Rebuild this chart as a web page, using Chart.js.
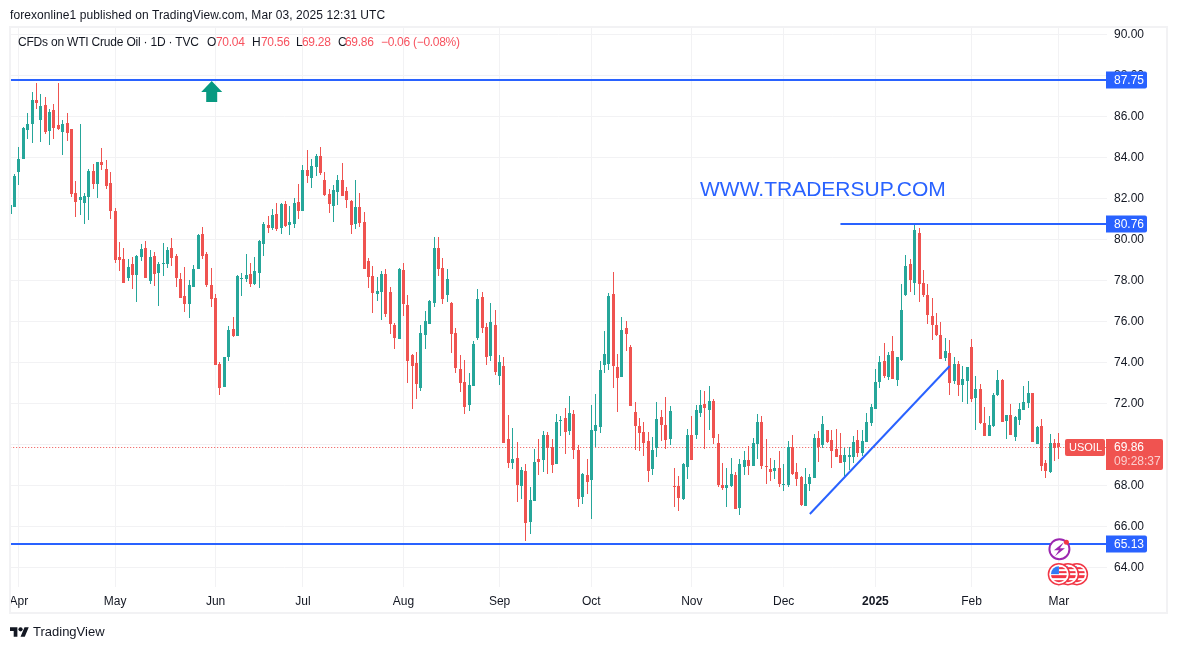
<!DOCTYPE html>
<html>
<head>
<meta charset="utf-8">
<title>USOIL</title>
<script src="https://cdn.jsdelivr.net/npm/chart.js@4"></script>
<style>
    html, body { margin: 0; padding: 0; background: #fff; }
    body { width: 1177px; height: 650px; position: relative; overflow: hidden; font-family: "Liberation Sans", sans-serif; color: #131722; }
    canvas { position: absolute; left: 0; top: 0; display: block; }
    .txt { position: absolute; white-space: nowrap; font-size: 12px; line-height: 14px; }
    .val { letter-spacing: -0.3px; }
    .red { color: #f7525f; }
    #frame { position: absolute; left: 9px; top: 26px; width: 1159px; height: 588px; box-sizing: border-box; border: 2px solid #f2f2f4; pointer-events: none; }
    #site { position: absolute; left: 700px; top: 175px; font-size: 21px; line-height: 28px; color: #2962ff; white-space: nowrap; }
</style>
</head>
<body>
<canvas id="oilChart" width="1177" height="650"></canvas>
<div id="frame"></div>
<div class="txt" style="left:10px;top:8px;letter-spacing:0.08px">forexonline1 published on TradingView.com, Mar 03, 2025 12:31 UTC</div>
<div class="txt" style="left:18px;top:35px;letter-spacing:-0.2px">CFDs on WTI Crude Oil · 1D · TVC</div>
<div class="txt" style="left:207px;top:35px">O</div><div class="txt val red" style="left:216px;top:35px">70.04</div>
<div class="txt" style="left:252px;top:35px">H</div><div class="txt val red" style="left:261px;top:35px">70.56</div>
<div class="txt" style="left:296px;top:35px">L</div><div class="txt val red" style="left:302px;top:35px">69.28</div>
<div class="txt" style="left:338px;top:35px">C</div><div class="txt val red" style="left:345px;top:35px">69.86</div>
<div class="txt val red" style="left:381px;top:35px">−0.06</div><div class="txt val red" style="left:413px;top:35px">(−0.08%)</div>
<div id="site">WWW.TRADERSUP.COM</div>
<svg style="position:absolute;left:10px;top:625px" width="19" height="15" viewBox="0 0 36 28"><path fill="#131722" d="M14 22H7V11H0V4h14v18zM28 22h-8l7.5-18h8L28 22z"/><circle fill="#131722" cx="20" cy="8" r="4"/></svg>
<div class="txt" style="left:33px;top:625px;font-size:13px">TradingView</div>
<script>
const opens = [
    81.24,81.59,83.30,83.92,85.33,85.63,86.80,85.82,86.55,85.28,
    86.31,85.58,85.24,85.67,85.38,82.26,81.92,81.77,82.06,83.33,
    82.70,83.77,83.43,82.75,81.38,79.14,79.04,78.11,78.80,78.26,
    79.14,79.58,77.97,79.19,78.36,78.80,78.80,79.58,79.19,78.06,
    77.24,76.85,77.67,78.55,80.26,79.28,77.77,77.14,73.92,72.80,
    74.26,75.63,75.28,78.06,78.06,78.31,77.82,78.36,79.77,80.70,
    80.55,81.23,80.55,81.72,80.70,80.74,81.82,81.38,83.38,82.99,
    83.53,84.06,82.89,82.21,81.62,82.31,82.89,82.35,81.87,80.74,
    81.57,80.84,78.94,78.21,77.33,77.43,78.31,77.43,75.82,75.13,
    78.50,76.79,74.35,73.96,72.74,75.33,75.87,76.89,79.57,78.60,
    77.28,76.89,75.43,73.67,73.04,71.92,72.84,75.17,77.18,75.72,
    74.31,75.82,73.33,73.82,70.26,69.09,69.33,67.97,68.70,66.21,
    67.23,69.28,69.23,70.45,69.87,69.04,71.14,71.28,70.65,71.48,
    69.72,67.43,68.50,68.26,70.65,70.84,73.87,73.92,77.33,73.77,
    73.28,75.67,74.75,71.58,70.89,70.60,70.16,68.79,69.82,71.33,
    70.94,70.26,67.97,67.97,67.33,68.89,70.45,70.45,71.53,71.97,
    71.67,72.11,70.06,68.01,67.87,67.97,68.50,66.89,68.89,69.23,
    68.95,70.02,71.09,68.95,68.80,68.70,68.85,68.02,68.02,69.87,
    68.65,68.41,66.99,68.07,68.36,70.31,69.97,70.70,70.22,69.78,
    69.48,69.14,69.39,69.39,70.22,69.58,70.11,71.04,71.72,73.04,
    74.06,73.28,74.55,73.14,74.11,77.28,78.80,77.87,80.31,77.87,
    77.28,76.26,75.82,75.33,74.21,74.45,73.09,73.92,72.89,73.09,
    74.75,72.26,72.70,71.04,70.41,70.89,72.41,73.14,71.14,71.43,
    70.36,71.19,71.67,72.02,72.50,70.02,70.89,69.09,68.65,70.06,
    70.04
];
const highs = [
    81.71,83.19,84.50,85.46,86.16,87.19,87.63,87.09,86.94,86.36,
    86.60,87.63,85.82,86.16,85.38,82.85,85.63,82.26,83.43,83.67,
    83.77,84.46,83.87,83.28,81.53,79.87,79.58,79.04,79.14,79.24,
    79.77,79.92,79.48,79.38,78.89,79.82,79.63,80.07,79.28,78.36,
    78.65,78.02,78.75,80.26,80.60,79.38,78.60,77.33,74.02,74.26,
    75.77,76.21,78.26,78.36,79.28,78.85,79.14,79.97,80.85,81.14,
    81.48,81.77,81.77,81.87,81.62,82.01,82.70,83.62,84.35,83.92,
    84.16,84.50,83.28,82.45,82.65,83.13,83.72,82.55,81.92,82.89,
    82.26,81.33,79.09,78.70,78.16,78.45,78.55,77.67,75.92,78.60,
    78.84,77.28,74.40,74.50,75.82,76.50,77.04,80.11,80.11,79.09,
    78.55,76.94,75.67,74.35,74.11,73.48,75.04,77.57,77.43,75.92,
    76.89,76.55,74.35,74.26,71.43,70.79,70.11,68.89,69.04,67.92,
    69.77,70.26,70.65,70.60,70.26,71.48,71.38,71.77,72.36,71.67,
    69.97,68.60,69.28,71.92,72.45,74.06,75.53,77.38,78.40,74.40,
    76.21,76.01,74.84,72.06,71.28,71.09,70.60,70.36,72.06,71.67,
    72.31,71.87,68.84,68.45,69.09,70.75,71.38,71.92,72.65,72.60,
    72.84,72.21,70.50,69.09,68.84,69.33,68.65,69.28,69.67,69.92,
    70.31,71.48,71.39,70.26,69.34,69.24,69.68,69.04,70.17,70.46,
    69.09,68.46,68.85,68.56,70.51,70.65,71.39,70.70,70.70,70.75,
    70.56,69.82,69.87,70.41,70.70,70.70,71.53,71.97,73.67,74.31,
    74.94,74.50,75.28,74.26,77.82,79.24,79.04,80.75,80.55,78.50,
    77.82,77.14,76.41,75.97,75.19,75.09,74.26,74.06,73.82,73.77,
    75.14,73.33,72.94,71.82,71.38,72.50,73.63,73.19,71.43,71.97,
    71.38,72.02,72.84,73.09,72.50,70.89,71.24,69.23,70.50,70.26,
    70.56
];
const lows = [
    80.62,81.59,82.65,83.92,84.89,84.70,86.36,84.75,85.14,84.60,
    84.89,85.33,84.11,84.80,82.06,81.09,81.19,80.75,80.94,82.46,
    82.02,83.38,82.46,80.99,78.85,78.45,77.87,77.97,77.58,76.94,
    78.94,78.11,77.82,77.72,76.75,78.21,78.60,78.70,77.67,77.14,
    76.45,76.16,77.67,78.55,79.04,77.67,76.70,73.87,72.41,72.80,
    74.06,75.24,75.28,77.24,77.92,77.67,77.77,77.63,79.19,80.31,
    80.45,80.40,80.26,80.60,80.21,80.55,80.99,81.38,82.74,82.50,
    83.09,83.13,82.11,81.28,80.84,81.67,82.11,81.53,80.26,80.50,
    80.60,78.55,77.62,76.40,76.99,76.06,76.21,75.38,74.65,75.13,
    76.26,72.99,71.72,72.21,72.60,74.65,75.87,76.70,78.21,76.84,
    76.94,74.45,73.48,72.55,71.48,71.62,72.84,75.09,75.43,73.87,
    74.06,73.38,72.89,70.06,68.84,68.79,67.19,67.33,65.28,65.62,
    67.23,68.50,68.65,68.55,68.60,69.04,70.40,69.53,70.45,69.28,
    66.94,67.09,67.58,66.35,69.87,70.55,73.48,73.62,72.75,71.58,
    73.28,74.55,71.87,69.72,69.67,69.43,68.16,68.50,69.38,70.16,
    69.77,69.97,66.94,66.75,67.28,68.30,69.23,70.26,71.33,69.77,
    70.70,70.01,67.92,67.77,66.94,67.92,66.84,66.55,68.50,68.50,
    68.95,69.29,68.80,68.07,68.22,68.31,67.92,67.73,67.92,68.51,
    67.97,66.99,66.99,67.73,68.36,69.14,69.82,70.07,68.85,69.39,
    69.09,68.46,68.75,69.09,69.39,69.43,70.11,70.89,71.72,72.75,
    73.24,73.14,73.19,72.84,74.06,77.23,77.43,77.28,76.94,77.19,
    75.87,75.09,75.28,74.16,74.06,72.41,72.94,72.36,72.06,71.97,
    72.06,70.70,70.99,70.41,70.41,70.84,72.36,71.09,70.26,70.45,
    70.16,70.94,71.67,71.77,70.11,70.02,68.70,68.36,68.60,69.19,
    69.28
];
const closes = [
    81.67,83.09,83.92,85.43,85.63,86.80,86.65,86.50,85.24,86.21,
    85.43,85.38,85.63,85.19,82.21,81.82,82.06,82.11,83.33,82.70,
    83.77,83.63,82.60,81.38,78.99,78.99,77.87,78.65,78.26,79.19,
    79.53,78.11,79.14,78.31,78.80,78.85,79.48,79.09,78.11,77.14,
    76.85,77.77,78.55,80.21,79.19,77.77,77.09,73.87,72.75,74.26,
    75.58,75.28,78.21,78.11,78.26,77.82,78.45,79.92,80.75,80.55,
    81.18,80.50,81.72,80.65,80.84,81.77,81.38,83.38,83.09,83.57,
    84.06,83.23,82.16,81.72,82.40,82.89,82.11,81.92,80.70,81.57,
    80.79,78.55,78.16,77.38,77.48,78.31,76.35,75.87,75.18,78.55,
    76.84,74.06,73.82,72.94,75.43,76.01,76.99,79.57,78.55,77.09,
    78.06,75.38,73.72,72.99,71.82,72.89,74.89,77.09,75.67,74.26,
    75.96,73.53,74.01,70.06,69.09,69.28,68.01,68.75,66.16,67.28,
    69.14,69.14,70.45,69.82,68.99,71.09,71.19,70.60,71.53,69.72,
    67.33,68.55,68.16,70.70,70.94,73.62,74.40,77.23,73.82,73.23,
    75.58,75.38,71.87,70.89,70.55,70.06,68.70,69.72,71.23,70.94,
    70.21,71.62,67.92,67.38,69.04,70.45,69.23,71.67,71.92,71.77,
    72.11,70.31,68.01,67.87,68.01,68.55,66.84,69.04,69.23,68.94,
    70.07,71.09,68.95,68.90,68.65,68.85,68.07,68.07,69.87,68.56,
    68.31,67.04,68.07,68.41,70.31,69.87,70.99,70.12,69.68,69.39,
    69.09,69.48,69.48,70.12,69.58,70.16,71.09,71.82,73.04,74.02,
    73.33,74.36,73.19,74.26,76.55,78.70,78.02,80.45,77.82,77.28,
    76.31,75.82,75.33,74.16,74.55,72.99,73.92,72.89,73.19,73.77,
    72.21,72.70,71.04,70.41,70.94,72.41,73.14,71.09,71.43,70.45,
    71.33,71.72,72.06,72.50,70.11,70.84,68.94,68.70,70.06,69.82,
    69.86
];

// one slot per trading day, plus the empty days right of the last candle
const emptyDays = 11;
const categories = Array.from({ length: closes.length + emptyDays }, (_, i) => String(i));

const monthIndexes = [2, 24, 47, 67, 90, 112, 133, 156, 177, 198, 220, 240];
const monthLabels = ['Apr', 'May', 'Jun', 'Jul', 'Aug', 'Sep', 'Oct', 'Nov', 'Dec', '2025', 'Feb', 'Mar'];
const priceTicks = [90, 88, 86, 84, 82, 80, 78, 76, 74, 72, 70, 68, 66, 64];

const resistance = 87.75;
const swingHigh = 80.76;
const swingHighStart = '190';
const support = 65.13;
const lastClose = 69.86;
const trendDays = ['183', '215'];
const trendPrices = [66.6, 73.82];
const arrowDay = 46;

const UP = '#26a69a';
const DOWN = '#ef5350';
const BLUE = '#2962ff';
const GRID = '#f2f2f4';
const FONT = '"Liberation Sans", sans-serif';

const candleColors = closes.map((c, i) => (c >= opens[i] ? UP : DOWN));
const lastDay = categories[categories.length - 1];

function flatLine(price, from, color, width, order, dash) {
    return {
        type: 'line',
        flat: true,
        data: [{ x: from, y: price }, { x: lastDay, y: price }],
        borderColor: color,
        borderWidth: width,
        borderDash: dash || [],
        pointRadius: 0,
        order: order
    };
}

function priceTag(ctx, x, y, w, h, fill, radius) {
    ctx.fillStyle = fill;
    ctx.beginPath();
    ctx.roundRect(x, y, w, h, radius);
    ctx.fill();
}

function drawFlag(ctx, x, y) {
    ctx.save();
    ctx.beginPath();
    ctx.arc(x, y, 10.5, 0, Math.PI * 2);
    ctx.fillStyle = '#fff';
    ctx.fill();
    ctx.strokeStyle = '#f23645';
    ctx.lineWidth = 1.5;
    ctx.stroke();
    ctx.beginPath();
    ctx.arc(x, y, 8, 0, Math.PI * 2);
    ctx.clip();
    ctx.fillStyle = '#f23645';
    ctx.fillRect(x - 9, y + 1, 18, 3);
    ctx.fillRect(x - 9, y + 6, 18, 3);
    ctx.fillRect(x, y - 7, 9, 2);
    ctx.fillRect(x, y - 3, 9, 2);
    ctx.fillStyle = '#3179f5';
    ctx.fillRect(x - 9, y - 9, 9, 9);
    ctx.restore();
}

// bars and flat lines sit on whole pixels so they stay crisp
const snapMarks = {
    id: 'snapMarks',
    beforeDatasetsDraw(chart) {
        chart.getSortedVisibleDatasetMetas().forEach(meta => {
            if (meta.type === 'bar') {
                meta.data.forEach(bar => {
                    bar.x = Math.floor(bar.x) + 0.5;
                    bar.y = Math.round(bar.y);
                    bar.base = Math.round(bar.base);
                    if (bar.y === bar.base) bar.base = bar.y + 1;
                });
            } else if (meta._dataset.flat) {
                const odd = meta._dataset.borderWidth === 1;
                meta.data.forEach(pt => {
                    pt.y = odd ? Math.floor(pt.y) + 0.5 : Math.round(pt.y);
                });
            }
        });
    }
};

const overlays = {
    id: 'overlays',
    afterDraw(chart) {
        const ctx = chart.ctx;
        const xs = chart.scales.x;
        const ys = chart.scales.y;
        const left = 1106;
        ctx.save();

        // arrow under the top line
        const ax = xs.getPixelForValue(arrowDay) + 0.5;
        const ay = ys.getPixelForValue(resistance) + 0.5;
        ctx.fillStyle = '#089981';
        ctx.beginPath();
        ctx.moveTo(ax, ay);
        ctx.lineTo(ax + 10.5, ay + 11);
        ctx.lineTo(ax + 5.5, ay + 11);
        ctx.lineTo(ax + 5.5, ay + 21);
        ctx.lineTo(ax - 5.5, ay + 21);
        ctx.lineTo(ax - 5.5, ay + 11);
        ctx.lineTo(ax - 10.5, ay + 11);
        ctx.closePath();
        ctx.fill();

        // event icons on the last bar
        const ex = xs.getPixelForValue(240);
        const ey = ys.getPixelForValue(support) + 5;
        ctx.beginPath();
        ctx.arc(ex + 0.5, ey, 10, 0, Math.PI * 2);
        ctx.fillStyle = '#fff';
        ctx.fill();
        ctx.strokeStyle = '#9c27b0';
        ctx.lineWidth = 2;
        ctx.stroke();
        ctx.fillStyle = '#9c27b0';
        ctx.beginPath();
        ctx.moveTo(ex + 5, ey - 7);
        ctx.lineTo(ex - 5, ey + 1);
        ctx.lineTo(ex, ey + 1);
        ctx.lineTo(ex - 4, ey + 7);
        ctx.lineTo(ex + 6, ey - 1);
        ctx.lineTo(ex + 1, ey - 1);
        ctx.closePath();
        ctx.fill();
        ctx.fillStyle = '#f23645';
        ctx.beginPath();
        ctx.arc(ex + 7.5, ey - 7, 2.5, 0, Math.PI * 2);
        ctx.fill();
        [18, 9, 0].forEach(dx => drawFlag(ctx, ex + dx, ey + 25));

        // price tags on the axis
        ctx.font = '12px ' + FONT;
        ctx.textBaseline = 'middle';
        ctx.textAlign = 'left';
        [resistance, swingHigh, support].forEach(price => {
            const y = Math.round(ys.getPixelForValue(price));
            priceTag(ctx, left, y - 8.5, 41, 17, BLUE, [0, 2, 2, 0]);
            ctx.fillStyle = '#fff';
            ctx.fillText(price.toFixed(2), left + 8, y + 0.5);
        });
        const ly = Math.round(ys.getPixelForValue(lastClose));
        priceTag(ctx, left, ly - 8, 57, 31, '#f05350', [0, 2, 2, 0]);
        priceTag(ctx, left - 41, ly - 8, 40, 17, '#f05350', 2);
        ctx.fillStyle = '#fff';
        ctx.fillText(lastClose.toFixed(2), left + 8, ly + 1);
        ctx.font = '11px ' + FONT;
        ctx.fillText('USOIL', left - 37, ly + 1);
        ctx.font = '12px ' + FONT;
        ctx.fillStyle = 'rgba(255,255,255,0.72)';
        ctx.fillText('09:28:37', left + 8, ly + 15);
        ctx.restore();
    }
};

new Chart(document.getElementById('oilChart'), {
    type: 'bar',
    data: {
        labels: categories,
        datasets: [
            {
                data: closes.map((c, i) => [lows[i], highs[i]]),
                backgroundColor: candleColors,
                barThickness: 1,
                inflateAmount: 0,
                grouped: false,
                order: 3
            },
            {
                data: closes.map((c, i) => [Math.min(opens[i], c), Math.max(opens[i], c)]),
                backgroundColor: candleColors,
                barThickness: 3,
                inflateAmount: 0,
                grouped: false,
                order: 2
            },
            flatLine(lastClose, '0', DOWN, 1, 4, [1, 2]),
            flatLine(resistance, '0', BLUE, 2, 1),
            flatLine(swingHigh, swingHighStart, BLUE, 2, 1),
            flatLine(support, '0', BLUE, 2, 1),
            {
                type: 'line',
                data: trendDays.map((d, i) => ({ x: d, y: trendPrices[i] })),
                borderColor: BLUE,
                borderWidth: 2,
                pointRadius: 0,
                order: 1
            }
        ]
    },
    options: {
        responsive: false,
        animation: false,
        events: [],
        layout: { padding: { left: 10.2, top: 27, right: 0, bottom: 0 } },
        plugins: { legend: { display: false }, tooltip: { enabled: false } },
        scales: {
            x: {
                offset: false,
                grid: { offset: false, color: GRID, drawTicks: false },
                border: { display: false },
                afterBuildTicks: scale => { scale.ticks = monthIndexes.map(v => ({ value: v })); },
                afterFit: scale => { scale.height = 63; },
                ticks: {
                    autoSkip: false,
                    maxRotation: 0,
                    padding: 7,
                    color: '#131722',
                    font: ctx => ({ family: FONT, size: 12, weight: monthLabels[ctx.index] === '2025' ? 'bold' : 'normal' }),
                    callback: (value, index) => monthLabels[index]
                }
            },
            y: {
                position: 'right',
                min: 63.04,
                max: 90.356,
                grid: { color: GRID, drawTicks: false },
                border: { display: false },
                afterBuildTicks: scale => { scale.ticks = priceTicks.map(v => ({ value: v })); },
                afterFit: scale => { scale.width = 70; },
                ticks: {
                    padding: 7,
                    color: '#131722',
                    font: { family: FONT, size: 12 },
                    callback: value => value.toFixed(2)
                }
            }
        }
    },
    plugins: [snapMarks, overlays]
});
</script>
</body>
</html>
